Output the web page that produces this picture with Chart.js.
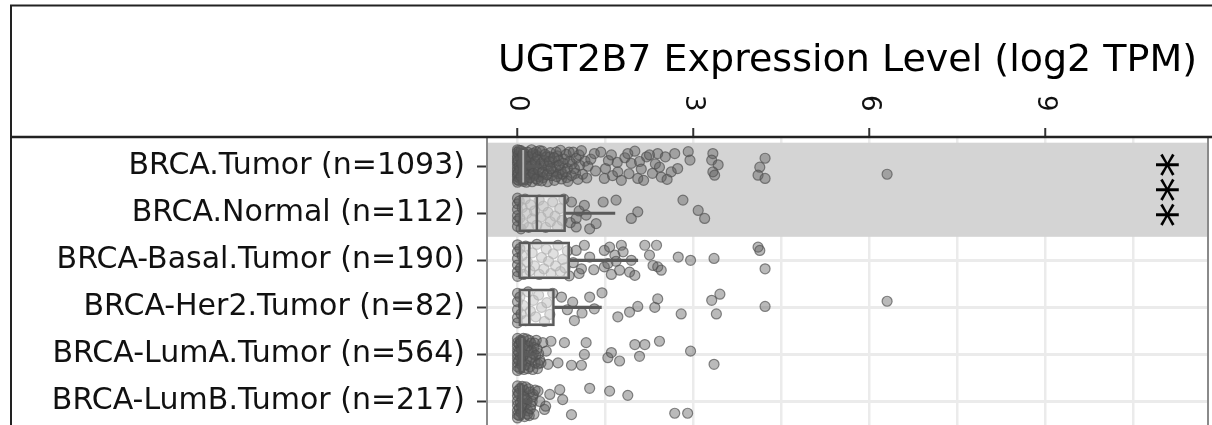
<!DOCTYPE html>
<html>
<head>
<meta charset="utf-8">
<script src="https://cdn.jsdelivr.net/npm/chart.js@4.4.1/dist/chart.umd.min.js"></script>
<style>
  html, body { margin: 0; padding: 0; background: #fff; overflow: hidden; }
  canvas { display: block; }
</style>
</head>
<body>
<canvas id="chart" width="1212" height="425"></canvas>
<script>
// Sample groups, top to bottom
const categories = [
  'BRCA.Tumor (n=1093)',
  'BRCA.Normal (n=112)',
  'BRCA-Basal.Tumor (n=190)',
  'BRCA-Her2.Tumor (n=82)',
  'BRCA-LumA.Tumor (n=564)',
  'BRCA-LumB.Tumor (n=217)'
];

const axisTitle = 'UGT2B7 Expression Level (log2 TPM)';
const xTickLabels = [0, 3, 6, 9];
const xGridSteps = [0, 1.5, 3, 4.5, 6, 7.5, 9, 10.5];

// Box-plot summaries (log2 TPM)
const boxQ1 = [0.0, 0.0, 0.02, 0.02, 0.0, 0.0];
const boxMedian = [0.06, 0.33, 0.2, 0.2, 0.05, 0.04];
const boxQ3 = [0.15, 0.82, 0.89, 0.63, 0.12, 0.1];
const whiskerHigh = [0.37, 1.66, 2.05, 1.43, 0.3, 0.25];

// Tumor vs normal comparison rows and its significance mark
const highlightRows = [0, 1];
const significance = '***';
const significanceAt = 11.1;

// Individual samples: [log2 TPM, vertical jitter within the row]
const tumorPts = [
  [0,-0.35],[0,-0.3],[0,-0.22],[0,-0.16],[0,-0.09],[0,-0.03],[0,0.04],[0,0.1],[0,0.17],[0,0.22],[0,0.29],[0,0.34],
  [0.02,-0.27],[0.03,0.0],[0.04,0.26],[0.06,-0.33],[0.07,-0.12],[0.08,0.13],[0.1,0.32],[0.12,-0.2],[0.13,0.06],[0.15,-0.04],[0.14,0.2],
  [0.17,-0.3],[0.18,0.28],[0.2,-0.14],[0.22,0.1],[0.24,-0.35],[0.25,0.33],[0.27,-0.05],[0.29,0.19],[0.31,-0.24],[0.33,0.03],[0.35,0.3],[0.37,-0.15],[0.39,0.14],
  [0.05,-0.18],[0.09,0.02],[0.11,-0.28],[0.19,0.17],[0.23,-0.22],[0.28,0.07],[0.32,-0.31],[0.36,0.22],[0.02,0.3],[0.16,-0.09],
  [0.01,-0.12],[0.01,0.14],[0.03,-0.34],[0.04,0.07],[0.06,0.22],[0.07,-0.06],[0.09,-0.25],[0.1,0.1],[0.12,0.27],[0.13,-0.15],[0.15,0.34],[0.17,-0.01],
  [0.19,-0.2],[0.21,0.24],[0.23,0.0],[0.26,-0.27],[0.27,0.15],[0.3,-0.1],[0.32,0.27],[0.34,-0.2],[0.36,0.08],[0.38,-0.33],[0.4,-0.05],
  [0.42,-0.32],[0.44,0.24],[0.46,-0.02],[0.49,-0.2],[0.51,0.33],[0.53,0.1],[0.56,-0.29],[0.58,0.2],[0.6,-0.09],[0.63,0.3],[0.65,0.0],[0.68,-0.22],[0.7,0.16],[0.73,-0.34],[0.75,0.27],[0.78,-0.06],
  [0.45,-0.12],[0.52,0.0],[0.61,0.12],[0.66,-0.3],[0.74,0.08],[0.41,0.31],[0.55,-0.2],[0.7,-0.12],[0.85,0.05],
  [0.43,0.12],[0.47,-0.25],[0.5,0.18],[0.54,-0.1],[0.57,0.05],[0.62,-0.18],[0.67,0.22],[0.71,-0.02],[0.77,0.17],[0.8,-0.15],[0.84,0.24],[0.88,-0.3],[0.93,-0.05],[0.99,0.15],[1.05,-0.24],
  [0.81,0.12],[0.83,-0.25],[0.86,0.32],[0.89,-0.1],[0.92,0.2],[0.95,-0.3],[0.97,0.05],[1.0,-0.17],[1.03,0.28],[1.06,-0.02],[1.09,-0.33],[1.11,0.17],[1.15,-0.11],[1.18,0.25],
  [1.2,0.0],[1.25,-0.15],[1.31,-0.27],[1.33,0.1],[1.42,-0.3],[1.48,0.26],[1.5,0.05],[1.55,-0.12],[1.6,-0.24],[1.62,0.2],[1.7,-0.08],[1.71,0.12],[1.77,0.3],[1.83,-0.18],
  [1.88,-0.27],[1.9,0.16],[1.94,-0.06],[2.0,-0.32],[2.05,0.26],[2.08,-0.1],[2.11,0.06],[2.15,0.3],[2.2,-0.2],[2.25,-0.24],[2.3,0.15],[2.35,-0.05],[2.39,-0.27],[2.42,0.02],[2.45,0.23],
  [2.52,-0.2],[2.55,0.28],[2.62,0.12],[2.68,-0.27],[2.73,0.05],[2.91,-0.31],[2.94,-0.13],
  [3.33,-0.27],[3.31,-0.13],[3.42,-0.03],[3.33,0.12],[3.36,0.19],
  [4.22,-0.17],[4.13,0.02],[4.1,0.19],[4.22,0.26],[6.3,0.17]
];
const normalPts = [
  [0,-0.32],[0,-0.2],[0,-0.08],[0,0.05],[0,0.16],[0,0.28],[0.03,-0.26],[0.04,0.1],[0.06,0.33],[0.08,-0.12],[0.1,0.22],[0.13,-0.3],[0.16,0.0],[0.19,0.3],[0.22,-0.18],
  [0.25,0.12],[0.29,-0.05],[0.33,0.25],[0.37,-0.28],[0.4,0.08],[0.44,-0.15],[0.48,0.3],[0.52,-0.02],[0.56,0.18],[0.6,-0.24],[0.64,0.06],[0.68,0.28],[0.72,-0.1],[0.76,0.15],[0.79,-0.3],
  [0.9,0.2],[0.92,-0.24],[1.0,0.11],[1.0,0.29],[1.05,-0.05],[1.14,-0.17],[1.17,0.04],[1.23,0.33],[1.34,0.22],[1.46,-0.24],[1.68,-0.28],[1.94,0.11],[2.05,-0.03],
  [2.82,-0.28],[3.08,-0.06],[3.19,0.11]
];
const basalPts = [
  [0,-0.33],[0,-0.18],[0,-0.04],[0,0.1],[0,0.24],[0,0.34],[0.04,-0.25],[0.05,0.17],[0.08,-0.1],[0.1,0.3],[0.14,-0.3],[0.17,0.04],[0.21,0.22],[0.25,-0.16],[0.29,0.12],
  [0.33,-0.34],[0.37,0.3],[0.41,-0.06],[0.45,0.18],[0.49,-0.24],[0.53,0.02],[0.57,0.28],[0.61,-0.14],[0.65,0.12],[0.69,-0.32],[0.73,0.24],[0.77,-0.02],[0.81,0.16],[0.85,-0.2],[0.88,0.33],
  [0.95,0.05],[1.0,-0.21],[1.05,0.28],[1.09,0.18],[1.14,-0.32],[1.23,-0.07],[1.3,0.2],[1.48,-0.21],[1.48,0.14],[1.54,0.07],[1.57,-0.28],[1.6,0.3],[1.66,-0.11],[1.68,0.02],
  [1.74,0.21],[1.77,-0.32],[1.8,-0.18],[1.91,0.25],[1.94,0.0],[2.0,0.32],[2.17,-0.32],[2.25,-0.11],[2.31,0.11],[2.37,-0.32],[2.39,0.14],[2.45,0.21],[2.74,-0.07],[2.95,0.0],
  [3.35,-0.04],[4.1,-0.28],[4.13,-0.21],[4.22,0.18]
];
const her2Pts = [
  [0,-0.3],[0,-0.12],[0,0.05],[0,0.22],[0,0.33],[0.04,-0.22],[0.06,0.14],[0.1,-0.04],[0.14,0.28],[0.18,-0.33],[0.22,0.08],[0.27,-0.15],[0.31,0.2],[0.36,-0.26],[0.41,0.0],
  [0.46,0.3],[0.5,-0.1],[0.55,0.15],[0.6,-0.3],
  [0.75,-0.22],[0.85,0.05],[0.94,-0.11],[0.97,0.28],[1.1,0.12],[1.23,-0.22],[1.31,0.03],[1.44,-0.31],[1.71,0.2],[1.91,0.1],[2.05,-0.02],[2.34,0.0],[2.39,-0.18],
  [2.79,0.14],[3.31,-0.15],[3.45,-0.28],[3.39,0.14],[4.22,-0.02],[6.3,-0.13]
];
const lumAPts = [
  [0,-0.34],[0,-0.25],[0,-0.17],[0,-0.08],[0,0.01],[0,0.09],[0,0.18],[0,0.26],[0,0.34],
  [0.05,-0.3],[0.06,-0.12],[0.05,0.05],[0.07,0.22],[0.1,-0.21],[0.11,0.32],[0.12,0.0],[0.15,-0.33],[0.16,0.14],[0.19,-0.08],[0.21,0.26],[0.23,-0.24],[0.25,0.06],
  [0.28,-0.15],[0.3,0.18],[0.32,-0.3],[0.34,0.3],[0.36,-0.02],[0.38,0.12],
  [0.03,-0.22],[0.08,0.15],[0.13,-0.1],[0.18,0.3],[0.2,-0.3],[0.27,-0.02],
  [0.02,-0.05],[0.02,0.13],[0.04,0.3],[0.06,-0.26],[0.09,0.04],[0.1,-0.34],[0.14,0.22],[0.17,-0.18],[0.22,0.1],[0.24,-0.08],[0.26,0.32],[0.29,-0.24],[0.31,0.02],[0.33,-0.12],[0.35,0.2],
  [0.4,0.18],[0.43,-0.25],[0.49,-0.07],[0.52,0.21],[0.57,-0.28],[0.69,0.18],[0.8,-0.25],[0.92,0.23],[1.09,0.23],[1.14,0.0],[1.17,-0.25],
  [1.54,0.07],[1.6,-0.04],[1.74,0.14],[2.0,-0.21],[2.08,0.04],[2.17,-0.21],[2.42,-0.28],[2.95,-0.07],[3.35,0.21]
];
const lumBPts = [
  [0,-0.33],[0,-0.22],[0,-0.12],[0,-0.01],[0,0.08],[0,0.19],[0,0.28],[0,0.35],[0.04,-0.27],[0.05,0.02],[0.06,0.24],[0.09,-0.15],[0.1,0.13],[0.12,0.32],
  [0.14,-0.31],[0.16,-0.04],[0.18,0.2],[0.21,-0.2],[0.23,0.08],[0.26,-0.1],[0.28,0.27],[0.3,-0.24],
  [0.03,0.15],[0.08,-0.05],[0.11,-0.24],[0.15,0.05],[0.2,0.3],
  [0.02,-0.17],[0.03,0.3],[0.07,0.1],[0.08,-0.32],[0.13,-0.08],[0.17,0.27],[0.19,-0.27],[0.22,0.15],[0.25,0.0],[0.27,-0.15],
  [0.35,-0.22],[0.38,0.0],[0.46,0.17],[0.48,0.1],[0.55,-0.15],[0.72,-0.25],[0.77,-0.04],[0.92,0.28],[1.23,-0.28],[1.57,-0.22],[1.88,-0.13],[2.68,0.25],[2.9,0.25]
];
const samplesByRow = [tumorPts, normalPts, basalPts, her2Pts, lumAPts, lumBPts];

const FONT = "'DejaVu Sans', 'Liberation Sans', sans-serif";
const BOX_COLOR = '#5a5a5a';

const pointData = samplesByRow.flatMap((pts, row) => pts.map(([v, j]) => ({ x: v, y: row + j })));

// Shaded band behind the compared groups
const bandPlugin = {
  id: 'band',
  beforeDatasetsDraw(chart) {
    const { ctx, chartArea, scales } = chart;
    const top = scales.y.getPixelForValue(Math.min(...highlightRows) - 0.5);
    const bottom = scales.y.getPixelForValue(Math.max(...highlightRows) + 0.5);
    ctx.save();
    ctx.fillStyle = '#d4d4d4';
    ctx.fillRect(chartArea.left, top, chartArea.right - chartArea.left, bottom - top);
    ctx.restore();
  }
};

// Significance stars, rotated like the axis numbers
const starsPlugin = {
  id: 'stars',
  afterDatasetsDraw(chart) {
    const { ctx, scales } = chart;
    const size = 50;
    const x = scales.x.getPixelForValue(significanceAt);
    const y = scales.y.getPixelForValue((highlightRows[0] + highlightRows[1]) / 2);
    ctx.save();
    ctx.translate(x, y);
    ctx.rotate(Math.PI / 2);
    ctx.font = size + 'px ' + FONT;
    ctx.fillStyle = '#000';
    ctx.textAlign = 'center';
    ctx.textBaseline = 'middle';
    // asterisks sit high in the em box; centre the glyphs on the anchor
    ctx.fillText(significance, 0, size * 0.27);
    ctx.restore();
  }
};

// Panel edges and the figure frame
const framePlugin = {
  id: 'frame',
  afterDraw(chart) {
    const { ctx, chartArea, width, height } = chart;
    ctx.save();
    ctx.strokeStyle = '#8a8a8a';
    ctx.lineWidth = 2;
    ctx.beginPath();
    ctx.moveTo(chartArea.left, chartArea.top);
    ctx.lineTo(chartArea.left, height);
    ctx.moveTo(chartArea.right, chartArea.top);
    ctx.lineTo(chartArea.right, height);
    ctx.stroke();
    ctx.strokeStyle = '#222';
    ctx.lineWidth = 2;
    ctx.beginPath();
    ctx.moveTo(10, 5.5);
    ctx.lineTo(width, 5.5);
    ctx.moveTo(11, 5);
    ctx.lineTo(11, height);
    ctx.stroke();
    ctx.lineWidth = 2.5;
    ctx.beginPath();
    ctx.moveTo(10, chartArea.top - 1);
    ctx.lineTo(width, chartArea.top - 1);
    ctx.stroke();
    ctx.restore();
  }
};

new Chart(document.getElementById('chart'), {
  type: 'scatter',
  data: {
    datasets: [
      {
        type: 'scatter',
        label: 'median',
        data: categories.map((c, i) => ({ x: boxMedian[i], y: i })),
        pointStyle: 'line',
        rotation: 90,
        pointRadius: 18,
        borderColor: BOX_COLOR,
        borderWidth: 2.5,
        order: 0
      },
      {
        type: 'bar',
        label: 'box',
        indexAxis: 'y',
        grouped: false,
        data: categories.map((c, i) => ({ x: [boxQ1[i], boxQ3[i]], y: i })),
        barThickness: 37,
        backgroundColor: 'rgba(255,255,255,0.55)',
        borderColor: BOX_COLOR,
        borderWidth: 2.5,
        borderSkipped: false,
        order: 1
      },
      {
        type: 'bar',
        label: 'whisker',
        indexAxis: 'y',
        grouped: false,
        data: categories.map((c, i) => ({ x: [boxQ3[i], whiskerHigh[i]], y: i })),
        barThickness: 2.5,
        backgroundColor: BOX_COLOR,
        borderWidth: 0,
        order: 2
      },
      {
        type: 'scatter',
        label: 'samples',
        data: pointData,
        pointRadius: 5,
        backgroundColor: 'rgba(90,90,90,0.42)',
        borderColor: 'rgba(80,80,80,0.68)',
        borderWidth: 1.2,
        order: 3
      }
    ]
  },
  options: {
    responsive: false,
    animation: false,
    events: [],
    layout: { autoPadding: false, padding: { left: 0, right: 4, top: 0, bottom: 0 } },
    plugins: { legend: { display: false }, tooltip: { enabled: false } },
    scales: {
      x: {
        type: 'linear',
        position: 'top',
        min: -0.52,
        max: 11.77,
        offset: false,
        afterBuildTicks: s => { s.ticks = xGridSteps.map(v => ({ value: v })); },
        afterFit: s => { s.height = 138; s.paddingLeft = 0; s.paddingRight = 0; },
        ticks: {
          minRotation: -90,
          maxRotation: -90,
          padding: 33,
          labelOffset: -32,
          color: '#111',
          font: { family: FONT, size: 26 },
          callback: v => (xTickLabels.includes(v) ? String(v) : '')
        },
        grid: {
          offset: false,
          color: '#ebebeb',
          lineWidth: 2.5,
          tickLength: 10,
          tickWidth: 2,
          tickColor: c => (c.tick && xTickLabels.includes(c.tick.value) ? '#333' : 'rgba(0,0,0,0)')
        },
        border: { display: false },
        title: {
          display: true,
          text: axisTitle,
          color: '#000',
          font: { family: FONT, size: 38 },
          padding: { top: 38, bottom: 0 }
        }
      },
      y: {
        type: 'linear',
        reverse: true,
        min: -0.6,
        max: 5.5,
        offset: false,
        afterBuildTicks: s => { s.ticks = categories.map((c, i) => ({ value: i })); },
        afterFit: s => { s.width = 487; s.paddingTop = 0; s.paddingBottom = 0; },
        ticks: {
          padding: 12,
          color: '#111',
          font: { family: FONT, size: 30 },
          callback: v => categories[v]
        },
        grid: {
          offset: false,
          color: '#ebebeb',
          lineWidth: 3,
          tickLength: 10,
          tickWidth: 2,
          tickColor: '#333'
        },
        border: { display: false }
      }
    }
  },
  plugins: [bandPlugin, starsPlugin, framePlugin]
});
</script>
</body>
</html>
